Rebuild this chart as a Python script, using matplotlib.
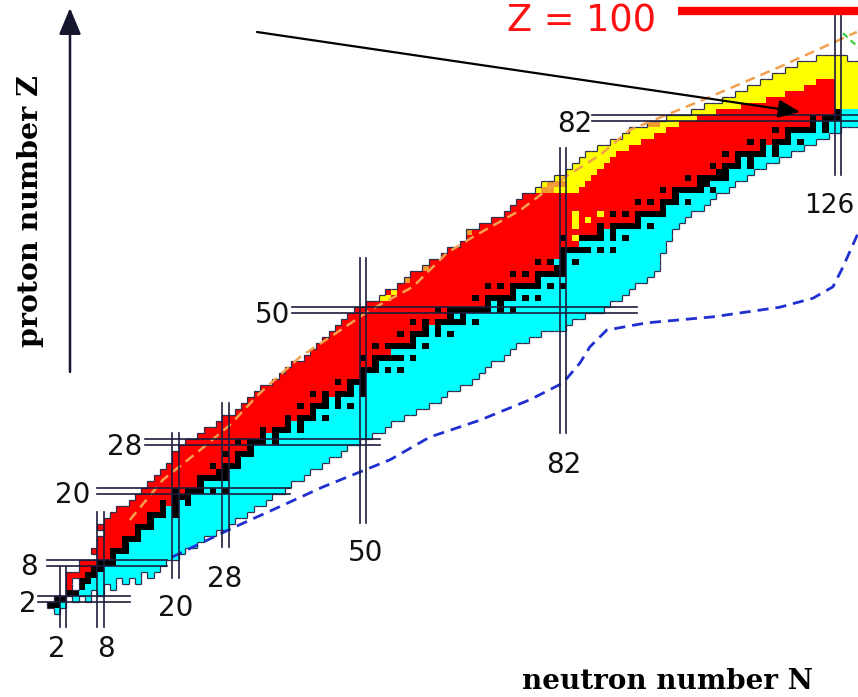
import matplotlib.pyplot as plt
import numpy as np
from matplotlib.colors import ListedColormap
from matplotlib.collections import LineCollection

# ---- chart data ----
# proton number Z = 0 .. 92, one entry per row
z_rows = list(range(0, 93))

# lightest known N for each Z (proton-rich edge)
n_first = [1, 0, 1, 3, 3, 3, 3, 5, 5, 8,
           7, 8, 8, 9, 8, 9, 10, 11, 13, 14,
           15, 16, 17, 18, 19, 20, 20, 21, 22, 24,
           25, 27, 28, 30, 31, 32, 33, 34, 36, 37,
           38, 39, 41, 42, 43, 44, 45, 46, 47, 48,
           49, 51, 53, 54, 56, 57, 58, 60, 61, 63,
           64, 66, 67, 67, 69, 71, 73, 74, 75, 76,
           78, 79, 81, 83, 84, 85, 86, 88, 90, 92,
           93, 96, 99, 103, 105, 108, 110, 112, 114, 116,
           118, 120, 123]

# heaviest known N for each Z (neutron-rich edge)
n_last = [1, 2, 6, 8, 10, 14, 16, 17, 18, 20,
          21, 23, 24, 26, 28, 29, 31, 32, 34, 35,
          37, 38, 40, 41, 43, 44, 46, 47, 49, 51,
          53, 54, 56, 58, 60, 62, 63, 65, 67, 68,
          69, 70, 72, 73, 74, 76, 78, 82, 83, 85,
          88, 89, 91, 92, 93, 95, 96, 97, 97, 97,
          98, 98, 99, 99, 100, 101, 102, 104, 105, 106,
          108, 109, 111, 112, 114, 116, 118, 120, 122, 124,
          126, 131, 131, 131, 131, 131, 131, 131, 131, 131,
          131, 131, 127]

# first N after the alpha (yellow) band on the proton-rich side
n_red = n_first[:70] + [85, 86, 87, 88, 89, 90, 91, 93, 95, 97,
                        99, 101, 104, 107, 111, 115, 118, 121, 123, 200,
                        200, 200, 200]

# stable / primordial nuclides, mass numbers per Z
stable_a = {
    1: [1, 2], 2: [3, 4], 3: [6, 7], 4: [9], 5: [10, 11], 6: [12, 13],
    7: [14, 15], 8: [16, 17, 18], 9: [19], 10: [20, 21, 22], 11: [23],
    12: [24, 25, 26], 13: [27], 14: [28, 29, 30], 15: [31],
    16: [32, 33, 34, 36], 17: [35, 37], 18: [36, 38, 40], 19: [39, 40, 41],
    20: [40, 42, 43, 44, 46, 48], 21: [45], 22: [46, 47, 48, 49, 50],
    23: [50, 51], 24: [50, 52, 53, 54], 25: [55], 26: [54, 56, 57, 58],
    27: [59], 28: [58, 60, 61, 62, 64], 29: [63, 65], 30: [64, 66, 67, 68, 70],
    31: [69, 71], 32: [70, 72, 73, 74, 76], 33: [75],
    34: [74, 76, 77, 78, 80, 82], 35: [79, 81], 36: [78, 80, 82, 83, 84, 86],
    37: [85, 87], 38: [84, 86, 87, 88], 39: [89], 40: [90, 91, 92, 94, 96],
    41: [93], 42: [92, 94, 95, 96, 97, 98, 100],
    44: [96, 98, 99, 100, 101, 102, 104], 45: [103],
    46: [102, 104, 105, 106, 108, 110], 47: [107, 109],
    48: [106, 108, 110, 111, 112, 113, 114, 116], 49: [113, 115],
    50: [112, 114, 115, 116, 117, 118, 119, 120, 122, 124], 51: [121, 123],
    52: [120, 122, 123, 124, 125, 126, 128, 130], 53: [127],
    54: [124, 126, 128, 129, 130, 131, 132, 134, 136], 55: [133],
    56: [130, 132, 134, 135, 136, 137, 138], 57: [138, 139],
    58: [136, 138, 140, 142], 59: [141],
    60: [142, 143, 144, 145, 146, 148, 150],
    62: [144, 147, 148, 149, 150, 152, 154], 63: [151, 153],
    64: [152, 154, 155, 156, 157, 158, 160], 65: [159],
    66: [156, 158, 160, 161, 162, 163, 164], 67: [165],
    68: [162, 164, 166, 167, 168, 170], 69: [169],
    70: [168, 170, 171, 172, 173, 174, 176], 71: [175, 176],
    72: [174, 176, 177, 178, 179, 180], 73: [180, 181],
    74: [180, 182, 183, 184, 186], 75: [185, 187],
    76: [184, 186, 187, 188, 189, 190, 192], 77: [191, 193],
    78: [190, 192, 194, 195, 196, 198], 79: [197],
    80: [196, 198, 199, 200, 201, 202, 204], 81: [203, 205],
    82: [204, 206, 207, 208], 83: [209],
}

# rows without stable nuclides: first beta-minus N
beta_minus_from = {0: 0, 43: 55, 61: 85}

# single cells (N, Z)
holes = [(3, 2), (5, 2), (7, 3), (4, 4), (9, 4), (4, 5), (11, 5), (13, 5), (15, 6)]
alpha_cells = [(53, 52), (54, 52), (55, 53), (84, 62), (84, 64), (84, 65),
               (86, 65), (84, 66), (88, 66)]
proton_cells = [(57, 55), (60, 57), (67, 63), (79, 70), (80, 70), (80, 71),
                (81, 71), (82, 71), (96, 81), (97, 81)]

# magic numbers: (value, from, to) of the double lines
magic_z = [(2, -2.0, 12.7), (8, -0.6, 18.6), (20, 7.4, 38.3),
           (28, 15.1, 52.7), (50, 38.6, 93.8), (82, 86.6, 135)]
magic_n = [(2, -2.7, 7.3), (8, -2.7, 16.4), (20, 5.4, 29.6),
           (28, 10.6, 34.6), (50, 14.6, 58.7), (82, 29.6, 77.0),
           (126, 72.5, 99.1)]

# drip lines
p_drip_n = [12.7, 18.0, 23.9, 28.7, 33.5, 39.9, 44.7, 51.1, 58.0, 63.4,
            67.6, 75.1, 81.5, 87.9, 92.7, 104.4, 116.7, 129.0]
p_drip_z = [15.1, 21.8, 26.7, 30.9, 36.2, 42.2, 45.5, 50.0, 53.9, 59.5,
            62.2, 66.6, 71.6, 75.8, 80.0, 85.0, 90.5, 96.3]
n_drip_n = [19.4, 29.2, 35.6, 43.6, 54.3, 60.7, 68.7, 76.7, 82.0, 84.7,
            86.3, 89.0, 95.4, 106.0, 116.7, 122.0, 125.2, 126.8, 129.5]
n_drip_z = [8.9, 13.8, 16.8, 20.6, 25.1, 28.9, 31.7, 35.1, 37.9, 41.2,
            43.9, 46.7, 47.9, 48.9, 50.5, 52.0, 53.9, 57.2, 63.5]

CYAN, RED, YEL, ORA, BLK = 1, 2, 3, 4, 5
N_LO, N_HI = -3, 133


def build_grid():
    grid = np.zeros((len(z_rows), N_HI - N_LO + 1), dtype=int)
    for z in z_rows:
        stab = [a - z for a in stable_a.get(z, [])]
        for n in range(n_first[z], n_last[z] + 1):
            if n < n_red[z]:
                code = YEL
            elif stab:
                if n in stab:
                    code = BLK
                elif n < min(stab):
                    code = RED
                elif n > max(stab):
                    code = CYAN
                else:
                    code = RED if n < np.mean(stab) else CYAN
            elif z in beta_minus_from:
                code = RED if n < beta_minus_from[z] else CYAN
            else:
                code = RED if n < 126 else YEL
            grid[z, n - N_LO] = code
    for n, z in holes:
        grid[z, n - N_LO] = 0
    for n, z in alpha_cells:
        grid[z, n - N_LO] = YEL
    for n, z in proton_cells:
        grid[z, n - N_LO] = ORA
    return grid


def outline(grid):
    filled = grid > 0
    nz, nn = filled.shape
    segs = []
    for i in range(nz):
        for j in range(nn):
            if not filled[i, j]:
                continue
            n, z = j + N_LO, i
            if j == 0 or not filled[i, j - 1]:
                segs.append([(n - 0.5, z - 0.5), (n - 0.5, z + 0.5)])
            if j == nn - 1 or not filled[i, j + 1]:
                segs.append([(n + 0.5, z - 0.5), (n + 0.5, z + 0.5)])
            if i == 0 or not filled[i - 1, j]:
                segs.append([(n - 0.5, z - 0.5), (n + 0.5, z - 0.5)])
            if i == nz - 1 or not filled[i + 1, j]:
                segs.append([(n - 0.5, z + 0.5), (n + 0.5, z + 0.5)])
    return segs


def px(x, y):
    # picture pixel -> (N, Z) data coordinates
    return (-8.08 + x / 6.25, 101.62 - y / 6.01)


def main():
    fig = plt.figure(figsize=(8.58, 6.97), dpi=100)
    ax = fig.add_axes([0, 0, 1, 1])
    ax.set_xlim(-8.08, 129.2)
    ax.set_ylim(-14.36, 101.62)
    ax.axis("off")

    grid = build_grid()
    cmap = ListedColormap(["#00ffff", "#ff0000", "#ffff00", "#f39a2a", "#000000"])
    xe = np.arange(N_LO - 0.5, N_HI + 1.0)
    ye = np.arange(-0.5, len(z_rows))
    ax.pcolormesh(xe, ye, np.ma.masked_equal(grid, 0), cmap=cmap,
                  vmin=0.5, vmax=5.5, zorder=1)
    ax.add_collection(LineCollection(outline(grid), colors="#2e2e4e",
                                     linewidths=0.9, zorder=2))

    # drip lines
    ax.plot(p_drip_n, p_drip_z, color="#f2a04e", lw=1.8, ls=(0, (4, 2.5)), zorder=3)
    ax.plot(n_drip_n, n_drip_z, color="#1f2fd0", lw=2.0, ls=(0, (4, 2.5)), zorder=3)
    ax.plot([126.8, 129.3], [96.1, 93.7], color="#33cc33", lw=1.5,
            ls=(0, (3, 2)), zorder=3)

    # magic numbers
    for m, a, b in magic_z:
        for d in (-0.5, 0.5):
            ax.plot([a, b], [m + d, m + d], color="#1c1c3c", lw=1.2, zorder=4)
    for m, a, b in magic_n:
        for d in (-0.5, 0.5):
            ax.plot([m + d, m + d], [a, b], color="#1c1c3c", lw=1.2, zorder=4)

    num = dict(fontsize=20, family="DejaVu Sans", color="#111111", va="baseline")
    for txt, x, y in [("2", 37, 612), ("8", 38, 575), ("20", 90, 503),
                      ("28", 142, 455), ("50", 290, 323), ("82", 592, 132)]:
        ax.text(*px(x, y), txt, ha="right", **num)
    for txt, x, y in [("2", 57, 657), ("8", 106, 657), ("20", 176, 616),
                      ("28", 225, 587), ("50", 366, 561), ("82", 564, 473)]:
        ax.text(*px(x, y), txt, ha="center", **num)
    ax.text(*px(804, 213), "126", ha="left", **dict(num, fontsize=19))

    # axis arrows and labels
    ax.annotate("", xy=px(70, 8), xytext=px(70, 372),
                arrowprops=dict(arrowstyle="-|>,head_length=0.6,head_width=0.25",
                                mutation_scale=27, color="#15152e", lw=1.8,
                                shrinkA=0, shrinkB=0))
    ax.annotate("", xy=px(862, 635), xytext=px(457, 635),
                arrowprops=dict(arrowstyle="-|>,head_length=0.6,head_width=0.25",
                                mutation_scale=27, color="#15152e", lw=1.8,
                                shrinkA=0, shrinkB=0))
    ax.text(*px(31, 211), "proton number Z", rotation=90, ha="center",
            va="center", fontsize=20.5, family="DejaVu Serif", weight="bold")
    ax.text(*px(667, 689), "neutron number N", ha="center", va="baseline",
            fontsize=20, family="DejaVu Serif", weight="bold")

    # Z = 100 marker and pointer
    ax.text(*px(582, 32), "Z = 100", ha="center", va="baseline",
            fontsize=26.5, color="#ff1010", family="DejaVu Sans")
    ax.plot(*zip(px(678, 11), px(860, 11)), color="#ff0000", lw=6,
            solid_capstyle="butt", zorder=5)
    ax.annotate("", xy=px(800, 112), xytext=px(257, 32),
                arrowprops=dict(arrowstyle="-|>,head_length=0.6,head_width=0.25",
                                mutation_scale=22, color="black", lw=1.6,
                                shrinkA=0, shrinkB=0), zorder=6)

    fig.savefig("out.png", dpi=100)


if __name__ == '__main__':
    main()
